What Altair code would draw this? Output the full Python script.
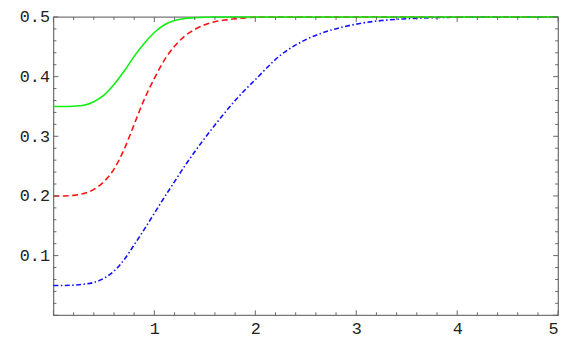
import altair as alt
import pandas as pd

# ---- data ----
green_x = [0, 0.1, 0.2, 0.3, 0.4, 0.5, 0.6, 0.7, 0.8, 0.9, 1.0, 1.1, 1.2, 1.3, 1.4, 1.5, 1.6, 2.0, 3.0, 4.0, 5.0]
green_y = [0.350, 0.350, 0.3505, 0.352, 0.358, 0.369, 0.387, 0.409, 0.434, 0.456, 0.474, 0.487, 0.494, 0.4975, 0.4988, 0.4996, 0.5, 0.5, 0.5, 0.5, 0.5]

red_x = [0, 0.1, 0.2, 0.3, 0.4, 0.5, 0.6, 0.7, 0.8, 0.9, 1.0, 1.1, 1.2, 1.3, 1.4, 1.5, 1.6, 1.7, 1.8, 1.9, 2.0, 2.2, 3.0, 4.0, 5.0]
red_y = [0.200, 0.200, 0.201, 0.204, 0.211, 0.224, 0.245, 0.278, 0.320, 0.362, 0.397, 0.428, 0.451, 0.468, 0.479, 0.487, 0.492, 0.495, 0.497, 0.4985, 0.4995, 0.5, 0.5, 0.5, 0.5]

blue_x = [0, 0.1, 0.2, 0.3, 0.4, 0.5, 0.6, 0.7, 0.8, 0.9, 1.0, 1.1, 1.2, 1.3, 1.4, 1.5, 1.6, 1.7, 1.8, 1.9, 2.0, 2.25, 2.5, 2.75, 3.0, 3.25, 3.5, 3.75, 4.0, 4.25, 5.0]
blue_y = [0.050, 0.050, 0.0505, 0.052, 0.055, 0.062, 0.074, 0.093, 0.118, 0.144, 0.171, 0.198, 0.224, 0.250, 0.274, 0.297, 0.319, 0.340, 0.360, 0.378, 0.395, 0.436, 0.462, 0.478, 0.488, 0.494, 0.497, 0.4988, 0.4996, 0.5, 0.5]

x_labels = [1, 2, 3, 4, 5]
y_labels = [0.1, 0.2, 0.3, 0.4, 0.5]
x_major = [0, 1, 2, 3, 4, 5]
x_minor = [round(i * 0.2, 2) for i in range(26) if i % 5 != 0]
y_major = [0.0, 0.1, 0.2, 0.3, 0.4, 0.5]
y_minor = [round(i * 0.02, 3) for i in range(26) if i % 5 != 0]

W, H = 511, 302
xs = alt.Scale(domain=[0, 5], nice=False, zero=False)
ys = alt.Scale(domain=[0, 0.5], nice=False, zero=False)

FONT = "Liberation Mono"

x_axis = alt.Axis(values=x_labels, format="d", title=None, grid=False, ticks=False, tickSize=0,
                  domain=False, labelFont=FONT, labelFontSize=17, labelColor="#222222",
                  labelPadding=5)
y_axis = alt.Axis(values=y_labels, format=".1f", title=None, grid=False, ticks=False, tickSize=0,
                  domain=False, labelFont=FONT, labelFontSize=17, labelColor="#222222",
                  labelPadding=4)


def series(xv, yv):
    return pd.DataFrame({"x": xv, "y": yv})


def X(field):
    return alt.X(field, scale=xs, axis=x_axis)


def Y(field):
    return alt.Y(field, scale=ys, axis=y_axis)


green = alt.Chart(series(green_x, green_y)).mark_line(
    color="#11ee11", strokeWidth=1.6, interpolate="monotone"
).encode(x=X("x:Q"), y=Y("y:Q"))

red = alt.Chart(series(red_x, red_y)).mark_line(
    color="#ff1010", strokeWidth=1.6, strokeDash=[6, 3.5], interpolate="monotone"
).encode(x=X("x:Q"), y=Y("y:Q"))

blue = alt.Chart(series(blue_x, blue_y)).mark_line(
    color="#1010ff", strokeWidth=1.6, strokeDash=[5, 2.5, 1.5, 2.5], interpolate="monotone"
).encode(x=X("x:Q"), y=Y("y:Q"))

TICK = "#666666"


def xticks(vals, length):
    d = pd.DataFrame({"t": vals})
    bottom = alt.Chart(d).mark_rule(color=TICK, strokeWidth=1).encode(
        x=X("t:Q"), y=alt.value(H), y2=alt.value(H - length))
    top = alt.Chart(d).mark_rule(color=TICK, strokeWidth=1).encode(
        x=X("t:Q"), y=alt.value(0), y2=alt.value(length))
    return [bottom, top]


def yticks(vals, length):
    d = pd.DataFrame({"t": vals})
    left = alt.Chart(d).mark_rule(color=TICK, strokeWidth=1).encode(
        y=Y("t:Q"), x=alt.value(0), x2=alt.value(length))
    right = alt.Chart(d).mark_rule(color=TICK, strokeWidth=1).encode(
        y=Y("t:Q"), x=alt.value(W), x2=alt.value(W - length))
    return [left, right]


layers = ([blue, red, green] + xticks(x_major, 5) + xticks(x_minor, 3)
          + yticks(y_major, 5) + yticks(y_minor, 3))

chart = alt.layer(*layers).properties(
    width=W, height=H, autosize="none",
    padding={"left": 46, "top": 7, "right": 10, "bottom": 27},
).configure_view(stroke="#777777", strokeWidth=1.3)

chart.save("out.html", embed_options={"renderer": "svg", "actions": False})
